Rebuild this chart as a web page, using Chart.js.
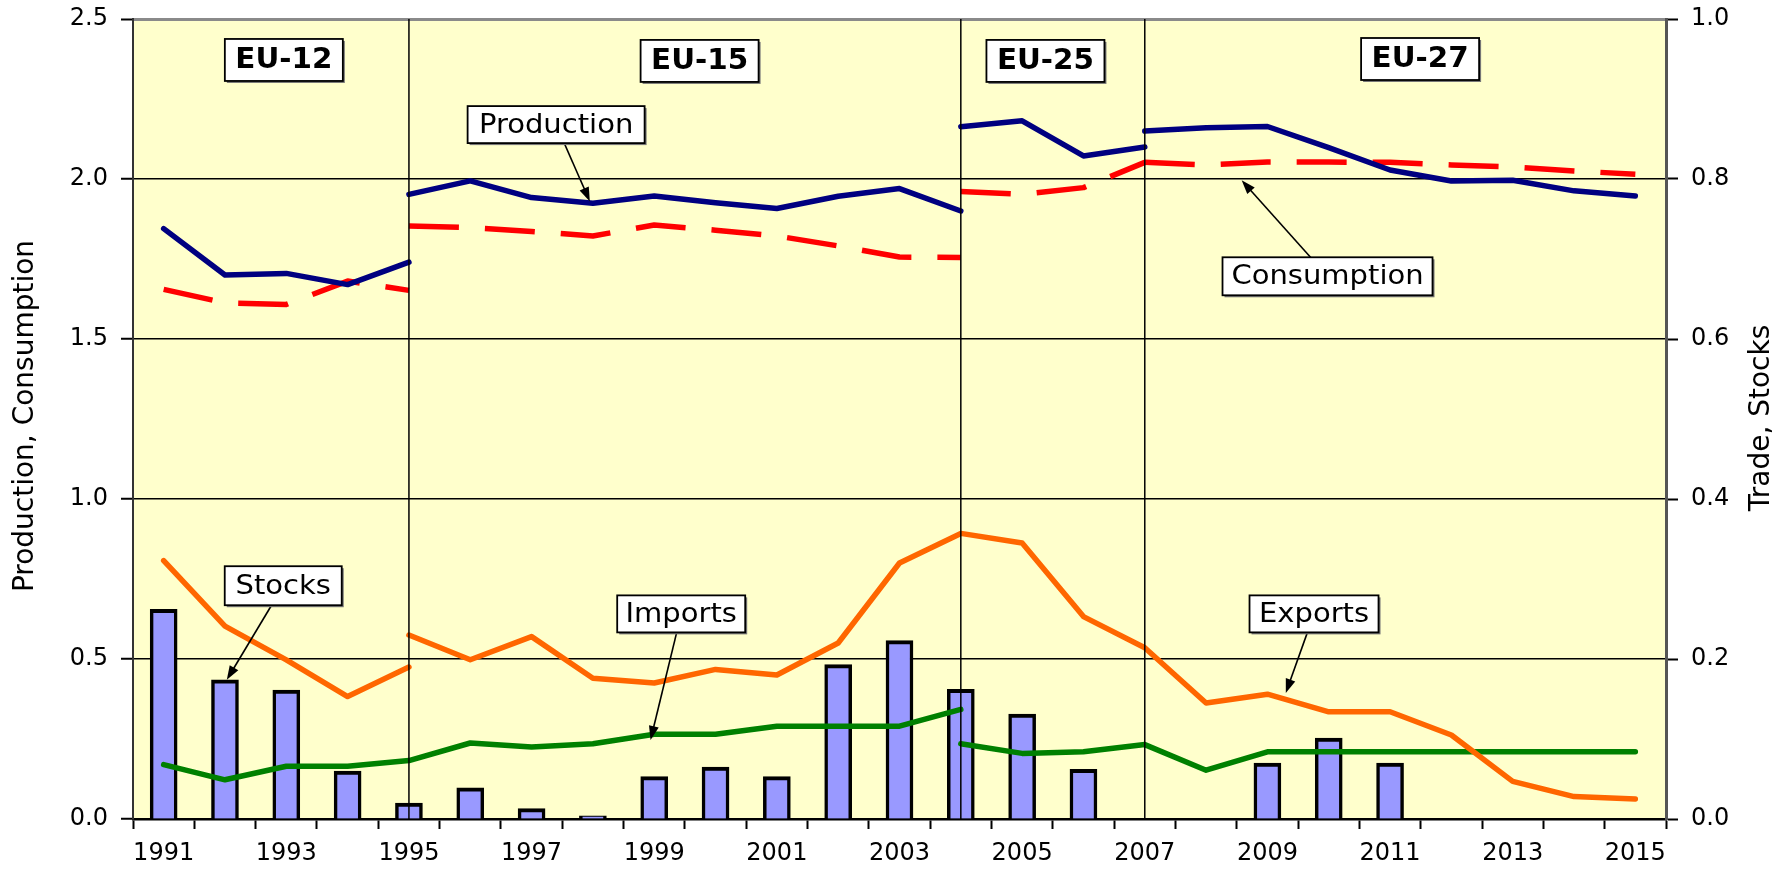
<!DOCTYPE html>
<html>
<head>
<meta charset="utf-8">
<script src="https://cdn.jsdelivr.net/npm/chart.js@4.4.1/dist/chart.umd.min.js"></script>
<style>
  html, body { margin: 0; padding: 0; background: #fff; }
</style>
</head>
<body>
<canvas id="myChart" width="1791" height="871"></canvas>
<script>
// ===== data =====
const years = ['1991', '1992', '1993', '1994', '1995', '1996', '1997', '1998', '1999', '2000',
               '2001', '2002', '2003', '2004', '2005', '2006', '2007', '2008', '2009', '2010',
               '2011', '2012', '2013', '2014', '2015'];

// left axis - one array per membership period (the line breaks when the EU grows)
const productionEU12 = [1.845, 1.700, 1.705, 1.670, 1.740];                                  // 1991-1995
const productionEU15 = [1.952, 1.994, 1.942, 1.924, 1.947, 1.926, 1.908, 1.946, 1.970, 1.900]; // 1995-2004
const productionEU25 = [2.163, 2.182, 2.072, 2.100];                                         // 2004-2007
const productionEU27 = [2.150, 2.160, 2.164, 2.098, 2.028, 1.994, 1.996, 1.963, 1.947];      // 2007-2015

const consumptionEU12 = [1.655, 1.613, 1.608, 1.681, 1.652];
const consumptionEU15 = [1.853, 1.848, 1.836, 1.822, 1.856, 1.840, 1.822, 1.791, 1.756, 1.755];
const consumptionEU25 = [1.961, 1.952, 1.973, 2.052];
const consumptionEU27 = [2.052, 2.044, 2.053, 2.053, 2.052, 2.044, 2.038, 2.025, 2.015];

// right axis (trade, stocks)
const exportsEU12 = [0.323, 0.241, 0.199, 0.153, 0.190];                                     // 1991-1995
const exportsFrom1995 = [0.230, 0.199, 0.228, 0.176, 0.170, 0.187, 0.180, 0.220, 0.320, 0.357,
                         0.345, 0.253, 0.214, 0.145, 0.156, 0.134, 0.134, 0.105, 0.047, 0.028, 0.025];
const importsTo2004 = [0.068, 0.049, 0.066, 0.066, 0.073, 0.095, 0.090, 0.094, 0.106, 0.106,
                       0.116, 0.116, 0.116, 0.137];                                          // 1991-2004
const importsFrom2004 = [0.094, 0.082, 0.084, 0.093, 0.061, 0.084, 0.084, 0.084, 0.084, 0.084,
                         0.084, 0.084];                                                      // 2004-2015
const stocks = [0.262, 0.174, 0.161, 0.060, 0.020, 0.039, 0.013, 0.004, 0.053, 0.065,
                0.053, 0.193, 0.223, 0.162, 0.131, 0.062, null, null, 0.070, 0.101,
                0.070, null, null, null, null];

const leftTicks = [0, 0.5, 1.0, 1.5, 2.0, 2.5];
const rightTicks = [0, 0.2, 0.4, 0.6, 0.8, 1.0];

const regionBreaks = ['1995', '2004', '2007'];

// ===== annotations (x = category position, y = left axis value) =====
const regionLabels = [
  { text: 'EU-12', x: 1.96, y: 2.372 },
  { text: 'EU-15', x: 8.74, y: 2.369 },
  { text: 'EU-25', x: 14.38, y: 2.369 },
  { text: 'EU-27', x: 20.49, y: 2.375 }
];
const callouts = [
  { text: 'Production', x: 6.40, y: 2.170, tipX: 6.95, tipY: 1.930, w: 177, h: 37 },
  { text: 'Consumption', x: 18.98, y: 1.696, tipX: 17.58, tipY: 1.996, w: 210, h: 38 },
  { text: 'Stocks', x: 1.95, y: 0.729, tipX: 1.03, tipY: 0.435, w: 117, h: 39 },
  { text: 'Imports', x: 8.44, y: 0.641, tipX: 7.94, tipY: 0.247, w: 128, h: 37 },
  { text: 'Exports', x: 18.76, y: 0.641, tipX: 18.30, tipY: 0.394, w: 129, h: 37 }
];

// spread a run of values over the full year list, nulls elsewhere
function placeAt(values, firstYear) {
  const out = years.map(() => null);
  const start = years.indexOf(firstYear);
  values.forEach((v, i) => { out[start + i] = v; });
  return out;
}

function lineSet(label, values, firstYear, color, axis, dashed, order) {
  return {
    type: 'line',
    label: label,
    data: placeAt(values, firstYear),
    yAxisID: axis,
    borderColor: color,
    borderWidth: 5.5,
    borderDash: dashed ? [50, 26] : [],
    borderCapStyle: dashed ? 'butt' : 'round',
    borderJoinStyle: 'round',
    pointRadius: 0,
    tension: 0,
    fill: false,
    order: order
  };
}

const NAVY = '#000080';
const RED = '#FF0000';
const ORANGE = '#FF6600';
const GREEN = '#008000';
const TICK_FONT = { family: 'DejaVu Sans', size: 24, lineHeight: 0.5 };

function drawText(ctx, text, x, y, font, stretch) {
  ctx.save();
  ctx.translate(x, y);
  ctx.scale(stretch, 1);
  ctx.font = font;
  ctx.fillStyle = '#000';
  ctx.textAlign = 'center';
  ctx.textBaseline = 'middle';
  ctx.fillText(text, 0, 0);
  ctx.restore();
}

function drawBox(ctx, cx, cy, w, h) {
  ctx.fillStyle = '#777';
  ctx.fillRect(cx - w / 2 + 2, cy - h / 2 + 2, w, h);
  ctx.fillStyle = '#fff';
  ctx.fillRect(cx - w / 2, cy - h / 2, w, h);
  ctx.strokeStyle = '#000';
  ctx.lineWidth = 1.8;
  ctx.strokeRect(cx - w / 2, cy - h / 2, w, h);
}

// yellow plot area
const plotBackground = {
  id: 'plotBackground',
  beforeDraw(chart) {
    const { ctx, chartArea: a } = chart;
    ctx.save();
    ctx.fillStyle = '#FFFFCC';
    ctx.fillRect(a.left, a.top, a.right - a.left, a.bottom - a.top);
    ctx.restore();
  }
};

// vertical period lines, period boxes and callouts
const notes = {
  id: 'notes',
  afterDatasetsDraw(chart) {
    const { ctx, chartArea: a } = chart;
    const xs = chart.scales.x, ys = chart.scales.y;
    ctx.save();
    ctx.strokeStyle = '#000';
    ctx.lineWidth = 1.5;
    regionBreaks.forEach(yr => {
      const px = xs.getPixelForValue(years.indexOf(yr));
      ctx.beginPath();
      ctx.moveTo(px, a.top);
      ctx.lineTo(px, a.bottom);
      ctx.stroke();
    });

    regionLabels.forEach(r => {
      const cx = xs.getPixelForValue(r.x), cy = ys.getPixelForValue(r.y);
      drawBox(ctx, cx, cy, 118, 42);
      drawText(ctx, r.text, cx, cy + 1, 'bold 28px "DejaVu Sans"', 1.05);
    });

    callouts.forEach(c => {
      const cx = xs.getPixelForValue(c.x), cy = ys.getPixelForValue(c.y);
      const tx = xs.getPixelForValue(c.tipX), ty = ys.getPixelForValue(c.tipY);
      const ang = Math.atan2(ty - cy, tx - cx);
      ctx.strokeStyle = '#000';
      ctx.lineWidth = 1.6;
      ctx.beginPath();
      ctx.moveTo(cx, cy);
      ctx.lineTo(tx - 10 * Math.cos(ang), ty - 10 * Math.sin(ang));
      ctx.stroke();
      ctx.fillStyle = '#000';
      ctx.beginPath();
      ctx.moveTo(tx, ty);
      ctx.lineTo(tx - 14 * Math.cos(ang) + 5 * Math.sin(ang), ty - 14 * Math.sin(ang) - 5 * Math.cos(ang));
      ctx.lineTo(tx - 14 * Math.cos(ang) - 5 * Math.sin(ang), ty - 14 * Math.sin(ang) + 5 * Math.cos(ang));
      ctx.closePath();
      ctx.fill();
      drawBox(ctx, cx, cy, c.w, c.h);
      drawText(ctx, c.text, cx, cy + 1, '27px "DejaVu Sans"', 1.075);
    });
    ctx.restore();
  },
  afterDraw(chart) {
    const { ctx } = chart;
    [[26, 416, 'Production, Consumption'], [1762, 418, 'Trade, Stocks']].forEach(t => {
      ctx.save();
      ctx.translate(t[0], t[1]);
      ctx.rotate(-Math.PI / 2);
      ctx.font = '28px "DejaVu Sans"';
      ctx.fillStyle = '#000';
      ctx.textAlign = 'center';
      ctx.textBaseline = 'middle';
      ctx.fillText(t[2], 0, 0);
      ctx.restore();
    });
  }
};

const ctx = document.getElementById('myChart').getContext('2d');

const chart = new Chart(ctx, {
  data: {
    labels: years,
    datasets: [
      lineSet('Exports', exportsEU12, '1991', ORANGE, 'yR', false, 1),
      lineSet('Exports', exportsFrom1995, '1995', ORANGE, 'yR', false, 1),
      lineSet('Imports', importsTo2004, '1991', GREEN, 'yR', false, 2),
      lineSet('Imports', importsFrom2004, '2004', GREEN, 'yR', false, 2),
      lineSet('Production', productionEU12, '1991', NAVY, 'y', false, 3),
      lineSet('Production', productionEU15, '1995', NAVY, 'y', false, 3),
      lineSet('Production', productionEU25, '2004', NAVY, 'y', false, 3),
      lineSet('Production', productionEU27, '2007', NAVY, 'y', false, 3),
      lineSet('Consumption', consumptionEU12, '1991', RED, 'y', true, 4),
      lineSet('Consumption', consumptionEU15, '1995', RED, 'y', true, 4),
      lineSet('Consumption', consumptionEU25, '2004', RED, 'y', true, 4),
      lineSet('Consumption', consumptionEU27, '2007', RED, 'y', true, 4),
      {
        type: 'bar',
        label: 'Stocks',
        data: stocks,
        yAxisID: 'yR',
        backgroundColor: '#9999FF',
        borderColor: '#000',
        borderWidth: { top: 4, left: 3.5, right: 3.5, bottom: 0 },
        borderSkipped: false,
        barThickness: 27,
        order: 10
      }
    ]
  },
  options: {
    responsive: false,
    animation: false,
    layout: { autoPadding: false, padding: { top: 16, left: 0, right: 0, bottom: 0 } },
    plugins: {
      legend: { display: false },
      tooltip: { enabled: false }
    },
    scales: {
      x: {
        z: 1,
        offset: true,
        grid: { display: true, offset: true, drawOnChartArea: false, drawTicks: true,
                tickLength: 10, tickColor: '#000', tickWidth: 2 },
        border: { display: true, color: '#000', width: 2.5 },
        ticks: {
          autoSkip: false, maxRotation: 0, padding: 19, color: '#000', font: TICK_FONT,
          callback: (val, i) => (i % 2 === 0 ? years[i] : '')
        },
        afterFit: s => { s.height = 52; }
      },
      y: {
        position: 'left',
        min: leftTicks[0],
        max: leftTicks[leftTicks.length - 1],
        afterBuildTicks: s => { s.ticks = leftTicks.map(v => ({ value: v })); },
        grid: {
          color: c => (c.tick.value === 2.5 ? '#8a8a8a' : (c.tick.value === 0 ? 'rgba(0,0,0,0)' : '#000')),
          lineWidth: c => (c.tick.value === 2.5 ? 3 : 1.5),
          drawTicks: true, tickLength: 12, tickColor: '#000', tickWidth: 2
        },
        border: { display: true, color: '#333', width: 2 },
        ticks: { padding: 13, color: '#000', font: TICK_FONT, callback: v => v.toFixed(1) },
        afterFit: s => { s.width = 133; }
      },
      yR: {
        position: 'right',
        min: rightTicks[0],
        max: rightTicks[rightTicks.length - 1],
        afterBuildTicks: s => { s.ticks = rightTicks.map(v => ({ value: v })); },
        grid: { drawOnChartArea: false, drawTicks: true, tickLength: 12, tickColor: '#000', tickWidth: 2 },
        border: { display: true, color: '#555', width: 3 },
        ticks: { padding: 13, color: '#000', font: TICK_FONT, callback: v => v.toFixed(1) },
        afterFit: s => { s.width = 125; }
      }
    }
  },
  plugins: [plotBackground, notes]
});
</script>
</body>
</html>
